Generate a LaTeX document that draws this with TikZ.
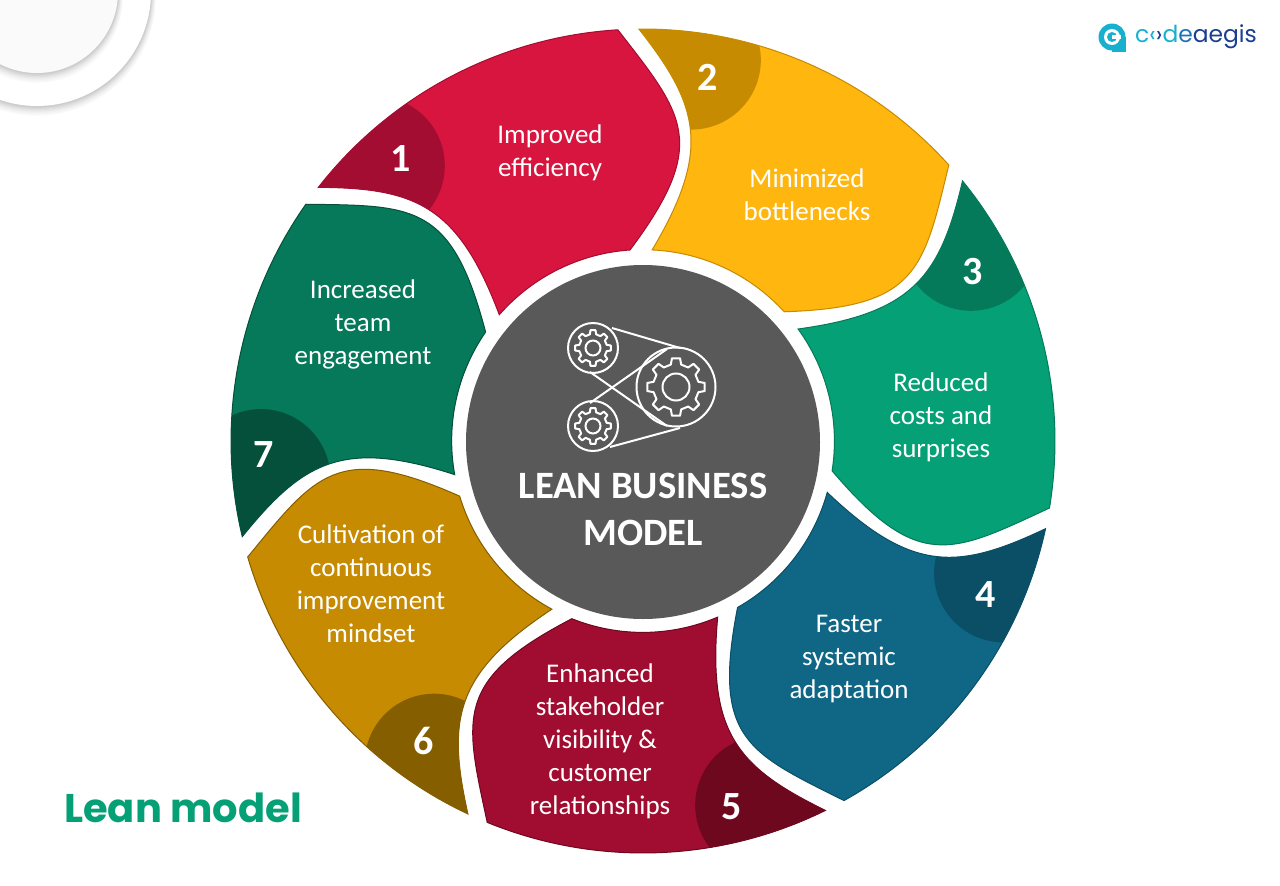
\documentclass[tikz,border=0pt]{standalone}
\usepackage{fontspec}
\setmainfont{Carlito}
\newfontfamily\leanfont{Poppins}

\definecolor{redpetal}{HTML}{D7153F}
\definecolor{reddark}{HTML}{A30D31}
\definecolor{yellowpetal}{HTML}{FFB60F}
\definecolor{yellowdark}{HTML}{C68B00}
\definecolor{greenpetal}{HTML}{05A076}
\definecolor{greendark}{HTML}{057A5B}
\definecolor{bluepetal}{HTML}{0F6685}
\definecolor{bluedark}{HTML}{0B4F66}
\definecolor{winepetal}{HTML}{A00D30}
\definecolor{winedark}{HTML}{6E081F}
\definecolor{goldpetal}{HTML}{C68B00}
\definecolor{golddark}{HTML}{855E00}
\definecolor{forestpetal}{HTML}{05795A}
\definecolor{forestdark}{HTML}{04503B}
\definecolor{hubgray}{HTML}{595959}
\definecolor{logocyan}{HTML}{18B0CF}
\definecolor{logoblue}{HTML}{1B74B8}
\definecolor{logonavy}{HTML}{1A3F8F}

\tikzset{
  petaltext/.style={text=white,align=center,font=\fontsize{27}{33}\selectfont},
  petalnum/.style={text=white,font=\fontsize{40}{40}\selectfont\bfseries},
  beltline/.style={draw=white,line width=2},
}

% one petal, around the centre of the hub
\newcommand{\petalpath}{(218:412) arc[start angle=218,end angle=266.5,radius=412]
  .. controls (41,-326) and (67,-298) .. (-13,-191)
  arc[start angle=266.1,end angle=221.2,radius=191]
  .. controls (-185,-236) and (-228,-253) .. (218:412) -- cycle}

% gear: centre, outer radius, root radius, hole radius
\newcommand{\gearicon}[4]{
  \begin{scope}[shift={#1}]
    \draw[beltline,line join=round] (-13:#3)
      \foreach \a in {0,45,...,315} {
        -- (\a-13:#3) -- (\a-8:#2) -- (\a+8:#2) -- (\a+13:#3)
      } -- cycle;
    \draw[beltline] (0,0) circle (#4);
  \end{scope}
}

\begin{document}
\begin{tikzpicture}[x=1pt,y=-1pt]
\useasboundingbox (0,0) rectangle (1280,886);
\clip (0,0) rectangle (1280,886);

% rings in the corner
\foreach \i/\g in {7/2,6/4,5/6,4/9,3/12,2/16,1/20} {
  \fill[black!\g] (37,{-8+\i*0.7}) circle ({114+\i*0.7});
}
\fill[white] (37,-8) circle (114);
\foreach \i/\g in {7/2,6/4,5/6,4/9,3/12,2/16,1/20} {
  \fill[black!\g] (37,{-8+\i*0.7}) circle ({81+\i*0.7});
}
\fill[black!2] (37,-8) circle (81);

% petals
\foreach \k/\petalc/\darkc in {0/redpetal/reddark,1/yellowpetal/yellowdark,
    2/greenpetal/greendark,3/bluepetal/bluedark,4/winepetal/winedark,
    5/goldpetal/golddark,6/forestpetal/forestdark} {
  \begin{scope}[shift={(643,441)},rotate=-51.43*\k]
    \fill[\petalc] \petalpath;
    \begin{scope}
      \clip \petalpath;
      \fill[\darkc] (225.8:384) circle (69.5);
    \end{scope}
    \draw[\darkc,line width=1] \petalpath;
  \end{scope}
}

% hub
\fill[hubgray] (643,442) circle (177);
\gearicon{(593,348)}{18}{14}{7.5}
\gearicon{(593,426)}{18}{14}{7.5}
\gearicon{(676,387)}{29}{23}{13.5}
\draw[beltline] (593,348) circle (25);
\draw[beltline] (593,426) circle (25);
\draw[beltline] (676,387) circle (39.5);
\draw[beltline] (612,328) -- (680,348);
\draw[beltline] (610,447) -- (680,428);
\draw[beltline] (590,372) -- (667,426);
\draw[beltline] (590,403) -- (667,349);

\node[text=white,align=center,font=\fontsize{38.7}{47}\selectfont\bfseries] (hubtitle) at (643,509) {LEAN BUSINESS\\MODEL};

% texts
\node[petaltext] (improved) at (550,153) {Improved\\efficiency};
\node[petaltext] (minimized) at (807,195) {Minimized\\bottlenecks};
\node[petaltext] (reduced) at (941,417) {Reduced\\costs and\\surprises};
\node[petaltext] (faster) at (849,659) {Faster\\systemic\\adaptation};
\node[petaltext] (enhanced) at (600,741) {Enhanced\\stakeholder\\visibility \&\\customer\\relationships};
\node[petaltext] (cultivation) at (371,584) {Cultivation of\\continuous\\improvement\\mindset};
\node[petaltext] (increased) at (363,324) {Increased\\team\\engagement};

\node[petalnum] (numone) at (401,159) {1};
\node[petalnum] (numtwo) at (708,77) {2};
\node[petalnum] (numthree) at (973,272) {3};
\node[petalnum] (numfour) at (986,595) {4};
\node[petalnum] (numfive) at (732,807) {5};
\node[petalnum] (numsix) at (424,741) {6};
\node[petalnum] (numseven) at (264,455) {7};

\node[text=greenpetal,font=\leanfont\fontsize{40}{40}\selectfont\bfseries] (leanmodel) at (183,808) {Lean model};

% logo
\fill[logocyan] (1112,37) circle (13.5);
\fill[logocyan] (1112,37) rectangle (1125.5,52);
\fill[white] (1112,37) circle (8);
\fill[logocyan] (1112,37) circle (5);
\fill[white] (1112,35) rectangle (1121,39);
\node[anchor=west,inner sep=0,font=\leanfont\fontsize{23.4}{24}\selectfont] (logotext) at (1135,37)
  {\textcolor{logocyan}{c‹}\textcolor{logonavy}{›}\textcolor{logocyan}{d}\textcolor{logoblue}{e}\textcolor{logonavy}{aegis}};
\end{tikzpicture}
\end{document}
